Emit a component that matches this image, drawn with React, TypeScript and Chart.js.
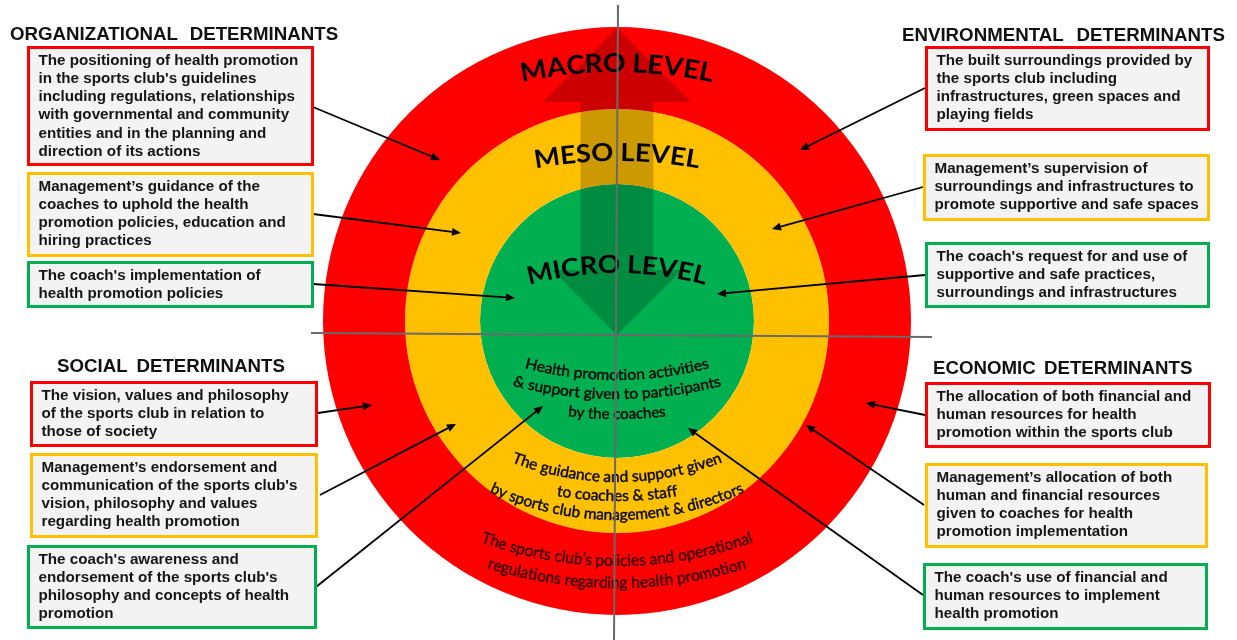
import React, { useEffect, useRef } from "react";
import { Chart, registerables } from "chart.js";

Chart.register(...registerables);

// ---------- data ----------
const LEVEL_LABELS = ["MACRO LEVEL", "MESO LEVEL", "MICRO LEVEL"];
const LEVEL_VALUES = [1, 1, 1];
const LEVEL_DESCRIPTIONS = [
  ["The sports club\u2019s policies and operational", "regulations regarding health promotion"],
  ["The guidance and support given", "to coaches & staff", "by sports club management & directors"],
  ["Health promotion activities", "& support given to participants", "by the coaches"],
];
const DETERMINANT_TITLES = [
  "ORGANIZATIONAL DETERMINANTS",
  "ENVIRONMENTAL DETERMINANTS",
  "SOCIAL DETERMINANTS",
  "ECONOMIC DETERMINANTS",
];
const ORGANIZATIONAL_ITEMS = [
  ["The positioning of health promotion", "in the sports club's guidelines", "including regulations, relationships", "with governmental and community", "entities and in the planning and", "direction of its actions"],
  ["Management\u2019s guidance of the", "coaches to uphold the health", "promotion policies, education and", "hiring practices"],
  ["The coach's implementation of", "health promotion policies"],
];
const ENVIRONMENTAL_ITEMS = [
  ["The built surroundings provided by", "the sports club including", "infrastructures, green spaces and", "playing fields"],
  ["Management\u2019s supervision of", "surroundings and infrastructures to", "promote supportive and safe spaces"],
  ["The coach's request for and use of", "supportive and safe practices,", "surroundings and infrastructures"],
];
const SOCIAL_ITEMS = [
  ["The vision, values and philosophy", "of the sports club in relation to", "those of society"],
  ["Management\u2019s endorsement and", "communication of the sports club's", "vision, philosophy and values", "regarding health promotion"],
  ["The coach's awareness and", "endorsement of the sports club's", "philosophy and concepts of health", "promotion"],
];
const ECONOMIC_ITEMS = [
  ["The allocation of both financial and", "human resources for health", "promotion within the sports club"],
  ["Management\u2019s allocation of both", "human and financial resources", "given to coaches for health", "promotion implementation"],
  ["The coach's use of financial and", "human resources to implement", "health promotion"],
];
const GROUP_ITEMS = [ORGANIZATIONAL_ITEMS, ENVIRONMENTAL_ITEMS, SOCIAL_ITEMS, ECONOMIC_ITEMS];

// ---------- styles / layout ----------
const RING_COLORS = ["#FF0000", "#FFC000", "#00B050"];
const RING_WEIGHTS = [82, 75, 137];
const BOX_FONT = '"Liberation Sans", Arial, sans-serif';
const ARC_FONT = 'Lato, "Open Sans", sans-serif';

const TITLE_POS = [
  { x: 10, base: 40.7, ws: 7 },
  { x: 902, base: 41.5, ws: 8 },
  { x: 57, base: 373, ws: 4 },
  { x: 933, base: 375, ws: 3 },
];
const BOX_POS = [
  [[27, 46, 287, 120], [27, 172, 287, 85], [27, 261, 287, 47]],
  [[925, 46, 285, 85], [923, 154, 287, 67], [925, 242, 285, 66]],
  [[30, 381, 288, 66], [30, 453, 288, 85], [27, 545, 290, 84]],
  [[925, 382, 286, 66], [925, 463, 283, 85], [923, 563, 285, 67]],
];
const ARROW_POS = [
  [[313, 107, 440, 160], [313, 214, 461, 233], [313, 284, 515, 298]],
  [[925, 88, 800, 150], [923, 187, 772, 229], [925, 275, 717, 294]],
  [[318, 413, 372, 405], [320, 495, 456, 424], [316, 587, 543, 406]],
  [[925, 415, 866, 403], [924, 505, 806, 425], [923, 595, 688, 428]],
];
// curved level titles: baseline y, radius, chord width, font size
const LEVEL_ARC = [
  { base: 72, r: 450, w: 190, size: 26 },
  { base: 161, r: 450, w: 163, size: 25 },
  { base: 273, r: 330, w: 176, size: 25 },
];
const DESC_ARC = [
  [{ base: 566, r: 400, w: 273 }, { base: 588, r: 432, w: 260 }],
  [{ base: 482, r: 290, w: 211 }, { base: 501, r: 360, w: 121 }, { base: 520, r: 305, w: 255 }],
  [{ base: 380, r: 360, w: 185 }, { base: 399, r: 420, w: 209 }, { base: 419, r: 450, w: 98 }],
];
const DESC_STYLE = [
  { size: 16, color: "#3a0000" },
  { size: 15.5, color: "#0a0a0a" },
  { size: 15, color: "#0a0a0a" },
];

function arcText(
  ctx: CanvasRenderingContext2D,
  text: string,
  cx: number,
  baseY: number,
  R: number,
  width: number,
  font: string,
  color: string,
  up: boolean,
  stroke: number
) {
  ctx.save();
  ctx.font = font;
  ctx.fillStyle = color;
  ctx.strokeStyle = color;
  ctx.lineWidth = stroke;
  ctx.textBaseline = "alphabetic";
  const W = ctx.measureText(text).width;
  const arcLen = 2 * R * Math.asin(Math.min(1, width / (2 * R)));
  const s = arcLen / W;
  const ccy = up ? baseY + R : baseY - R;
  for (let i = 0; i < text.length; i++) {
    const ch = text[i];
    const start = ctx.measureText(text.slice(0, i)).width * s;
    const w = ctx.measureText(ch).width * s;
    const th = (start + w / 2 - arcLen / 2) / R;
    const a = up ? -Math.PI / 2 + th : Math.PI / 2 - th;
    ctx.save();
    ctx.translate(cx + R * Math.cos(a), ccy + R * Math.sin(a));
    ctx.rotate(up ? a + Math.PI / 2 : a - Math.PI / 2);
    ctx.scale(s, 1);
    ctx.textAlign = "center";
    ctx.fillText(ch, 0, 0);
    if (stroke > 0) ctx.strokeText(ch, 0, 0);
    ctx.restore();
  }
  ctx.restore();
}

function arrow(ctx: CanvasRenderingContext2D, x1: number, y1: number, x2: number, y2: number) {
  const ang = Math.atan2(y2 - y1, x2 - x1);
  const L = 9, H = 4;
  const bx = x2 - L * Math.cos(ang);
  const by = y2 - L * Math.sin(ang);
  ctx.beginPath();
  ctx.moveTo(x1, y1);
  ctx.lineTo(bx, by);
  ctx.stroke();
  ctx.beginPath();
  ctx.moveTo(x2, y2);
  ctx.lineTo(bx + H * Math.sin(ang), by - H * Math.cos(ang));
  ctx.lineTo(bx - H * Math.sin(ang), by + H * Math.cos(ang));
  ctx.closePath();
  ctx.fill();
}

const overlayPlugin = {
  id: "levelOverlay",
  afterDatasetsDraw(chart: any) {
    const ctx: CanvasRenderingContext2D = chart.ctx;
    const el: any = chart.getDatasetMeta(0).data[0];
    const cx = el.x;
    const cy = el.y;
    ctx.save();
    // translucent double arrow
    ctx.beginPath();
    ctx.moveTo(cx, cy - 293);
    ctx.lineTo(cx + 74, cy - 219);
    ctx.lineTo(cx + 36.5, cy - 219);
    ctx.lineTo(cx + 36.5, cy - 51);
    ctx.lineTo(cx + 65, cy - 51);
    ctx.lineTo(cx, cy + 14);
    ctx.lineTo(cx - 65, cy - 51);
    ctx.lineTo(cx - 36.5, cy - 51);
    ctx.lineTo(cx - 36.5, cy - 219);
    ctx.lineTo(cx - 74, cy - 219);
    ctx.closePath();
    ctx.fillStyle = "rgba(0,0,0,0.2)";
    ctx.fill();

    // level titles
    LEVEL_LABELS.forEach((lab, i) => {
      const p = LEVEL_ARC[i];
      arcText(ctx, lab, cx, p.base, p.r, p.w, `bold ${p.size}px ${ARC_FONT}`, "#000", true, 0);
    });
    // level descriptions
    LEVEL_DESCRIPTIONS.forEach((lines, i) => {
      lines.forEach((line, j) => {
        const p = DESC_ARC[i][j];
        const st = DESC_STYLE[i];
        arcText(ctx, line, cx, p.base, p.r, p.w, `${st.size}px ${ARC_FONT}`, st.color, false, 0.45);
      });
    });

    // grey axes
    ctx.strokeStyle = "#6a6a6a";
    ctx.lineWidth = 2;
    ctx.beginPath();
    ctx.moveTo(cx + 1, 5);
    ctx.lineTo(cx - 3, 640);
    ctx.stroke();
    ctx.beginPath();
    ctx.moveTo(311, cy + 12);
    ctx.lineTo(932, cy + 16);
    ctx.stroke();

    // pointer arrows
    ctx.strokeStyle = "#000";
    ctx.fillStyle = "#000";
    ctx.lineWidth = 1.8;
    ARROW_POS.forEach((g) => g.forEach((a) => arrow(ctx, a[0], a[1], a[2], a[3])));
    ctx.restore();
  },
};

export default function App() {
  const ref = useRef<HTMLCanvasElement>(null);
  useEffect(() => {
    const chart = new Chart(ref.current as HTMLCanvasElement, {
      type: "doughnut",
      data: {
        labels: ["level"],
        datasets: LEVEL_LABELS.map((lab, i) => ({
          label: lab,
          data: [LEVEL_VALUES[i]],
          backgroundColor: RING_COLORS[i],
          borderWidth: 0,
          hoverBorderWidth: 0,
          hoverOffset: 0,
          offset: 0,
          weight: RING_WEIGHTS[i],
        })),
      } as any,
      options: {
        responsive: false,
        animation: false,
        cutout: 0,
        events: [],
        layout: { padding: { left: 323, right: 326, top: 27, bottom: 25 } },
        plugins: { legend: { display: false }, tooltip: { enabled: false } },
      } as any,
      plugins: [overlayPlugin as any],
    });
    return () => chart.destroy();
  }, []);

  return (
    <div style={{ position: "fixed", left: 0, top: 0, width: 1237, height: 640, background: "#fff", overflow: "hidden" }}>
      <canvas ref={ref} width={1237} height={640} style={{ position: "absolute", left: 0, top: 0, width: 1237, height: 640 }} />
      {DETERMINANT_TITLES.map((t, i) => (
        <div
          key={"t" + i}
          style={{
            position: "absolute",
            left: TITLE_POS[i].x,
            top: TITLE_POS[i].base - 15.8,
            fontFamily: BOX_FONT,
            fontWeight: 700,
            fontSize: 18.7,
            lineHeight: "18.7px",
            whiteSpace: "pre",
            wordSpacing: TITLE_POS[i].ws,
            color: "#111",
          }}
        >
          {t}
        </div>
      ))}
      {GROUP_ITEMS.map((items, g) =>
        items.map((lines, k) => {
          const [x, y, w, h] = BOX_POS[g][k];
          return (
            <div
              key={`b${g}-${k}`}
              style={{
                position: "absolute",
                left: x,
                top: y,
                width: w,
                height: h,
                boxSizing: "border-box",
                border: `3px solid ${RING_COLORS[k]}`,
                background: "#F3F3F3",
              }}
            >
              <div
                style={{
                  position: "absolute",
                  left: 8.5,
                  top: 1.6,
                  fontFamily: BOX_FONT,
                  fontWeight: 700,
                  fontSize: 15.2,
                  lineHeight: "18.3px",
                  whiteSpace: "nowrap",
                  color: "#151515",
                }}
              >
                {lines.map((l, j) => (
                  <div key={j}>{l}</div>
                ))}
              </div>
            </div>
          );
        })
      )}
    </div>
  );
}
